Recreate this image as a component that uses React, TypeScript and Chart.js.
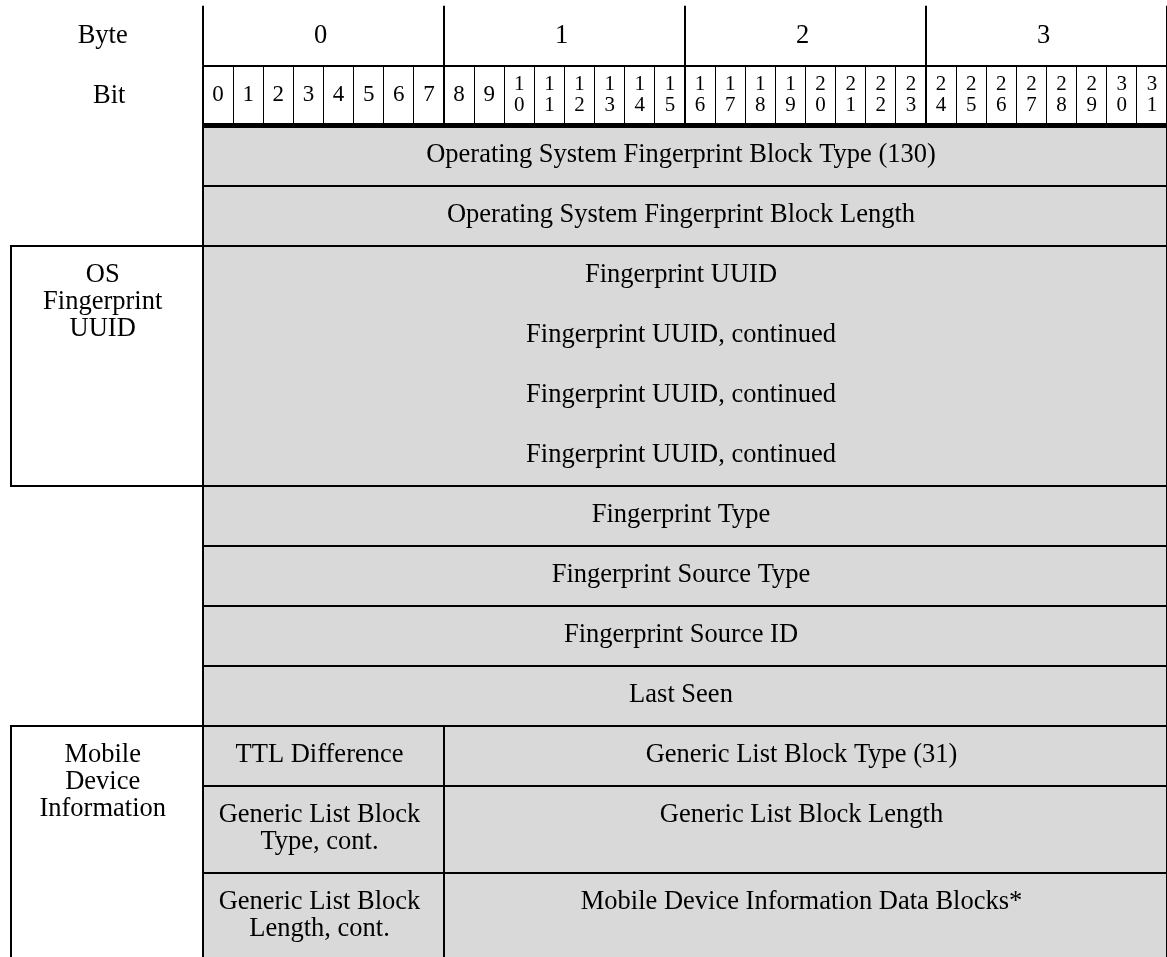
import React, { useEffect, useRef } from 'react';
import { Chart, registerables } from 'chart.js';

Chart.register(...registerables);

// ---- header data ----
const headerLabels = ['Byte', 'Bit'];
const byteLabels = ['0', '1', '2', '3'];
const bitLabels = [
  '0', '1', '2', '3', '4', '5', '6', '7',
  '8', '9', '10', '11', '12', '13', '14', '15',
  '16', '17', '18', '19', '20', '21', '22', '23',
  '24', '25', '26', '27', '28', '29', '30', '31',
];

// ---- field data (bits along x, 32-bit words along y) ----
const fieldLabels = [
  'Operating System Fingerprint Block Type (130)',
  'Operating System Fingerprint Block Length',
  'Fingerprint UUID',
  'Fingerprint UUID, continued',
  'Fingerprint UUID, continued',
  'Fingerprint UUID, continued',
  'Fingerprint Type',
  'Fingerprint Source Type',
  'Fingerprint Source ID',
  'Last Seen',
  'TTL Difference',
  'Generic List Block Type (31)',
  'Generic List Block\nType, cont.',
  'Generic List Block Length',
  'Generic List Block\nLength, cont.',
  'Mobile Device Information Data Blocks*',
];
const fieldBitFrom = [0, 0, 0, 0, 0, 0, 0, 0, 0, 0, 0, 8, 0, 8, 0, 8];
const fieldBitTo = [32, 32, 32, 32, 32, 32, 32, 32, 32, 32, 8, 32, 8, 32, 8, 32];
const fieldRowFrom = [0, 1, 2, 3, 4, 5, 6, 7, 8, 9, 10, 10, 11, 11, 12.45, 12.45];
const fieldRowTo = [1, 2, 3, 4, 5, 6, 7, 8, 9, 10, 11, 11, 12.45, 12.45, 13.9, 13.9];
const fieldBox = [0, 1, 2, 2, 2, 2, 3, 4, 5, 6, 7, 8, 9, 10, 11, 12];

// ---- side group labels ----
const sideLabels = ['OS\nFingerprint\nUUID', 'Mobile\nDevice\nInformation'];
const sideRowFrom = [2, 10];
const sideRowTo = [6, 13.9];

// ---- layout / style constants ----
const X_MIN = -6.7386;
const X_MAX = 32;
const Y_MIN = -2.095;
const Y_MAX = 13.855;
const SIDE_LEFT = -6.36;
const FILL = 'rgb(217,217,217)';
const SERIF = '"Liberation Serif", "Times New Roman", Times, serif';
const TEXT_SHIFT = -4;
const LINE_GAP = 26.7;

const diagramPlugin = {
  id: 'bitDiagram',
  afterDraw(chart: any) {
    const ctx: CanvasRenderingContext2D = chart.ctx;
    const xs = chart.scales.x;
    const ys = chart.scales.y;
    const X = (v: number) => xs.getPixelForValue(v);
    const Y = (v: number) => ys.getPixelForValue(v);
    const r2 = (v: number) => Math.round(v);
    const r1 = (v: number) => Math.floor(v) + 0.5;

    ctx.save();

    // gray field fills (pixel-snapped so adjacent cells join seamlessly)
    ctx.fillStyle = FILL;
    fieldLabels.forEach((_, i) => {
      const x0 = r2(X(fieldBitFrom[i]));
      const x1 = r2(X(fieldBitTo[i]));
      const y0 = r2(Y(fieldRowFrom[i]));
      const y1 = r2(Y(fieldRowTo[i]));
      ctx.fillRect(x0, y0, x1 - x0, y1 - y0);
    });

    ctx.strokeStyle = '#000';
    const line = (x0: number, y0: number, x1: number, y1: number, w: number) => {
      ctx.lineWidth = w;
      ctx.beginPath();
      ctx.moveTo(x0, y0);
      ctx.lineTo(x1, y1);
      ctx.stroke();
    };

    // field boxes
    const boxes: Record<number, { a: number; b: number; c: number; d: number }> = {};
    fieldLabels.forEach((_, i) => {
      const k = fieldBox[i];
      const bx = boxes[k];
      if (!bx) {
        boxes[k] = { a: fieldBitFrom[i], b: fieldBitTo[i], c: fieldRowFrom[i], d: fieldRowTo[i] };
      } else {
        bx.a = Math.min(bx.a, fieldBitFrom[i]);
        bx.b = Math.max(bx.b, fieldBitTo[i]);
        bx.c = Math.min(bx.c, fieldRowFrom[i]);
        bx.d = Math.max(bx.d, fieldRowTo[i]);
      }
    });
    ctx.lineWidth = 2;
    Object.values(boxes).forEach((bx) => {
      const x0 = r2(X(bx.a));
      const x1 = r2(X(bx.b));
      const y0 = r2(Y(bx.c));
      const y1 = r2(Y(bx.d));
      ctx.strokeRect(x0, y0, x1 - x0, y1 - y0);
    });

    // side boxes
    sideLabels.forEach((_, i) => {
      const x0 = r2(X(SIDE_LEFT));
      const x1 = r2(X(0));
      const y0 = r2(Y(sideRowFrom[i]));
      const y1 = r2(Y(sideRowTo[i]));
      ctx.strokeRect(x0, y0, x1 - x0, y1 - y0);
    });

    // header grid: byte row
    byteLabels.forEach((_, b) => {
      const xv = r2(X(b * 8));
      line(xv, Y(-2), xv, Y(-1), 2);
    });
    line(r2(X(32)), Y(-2), r2(X(32)), Y(0), 2);
    line(X(0), r2(Y(-1)), X(32), r2(Y(-1)), 2);
    // bit row
    bitLabels.forEach((_, i) => {
      if (i % 8 === 0) {
        const xv = r2(X(i));
        line(xv, Y(-1), xv, Y(0), 2);
      } else {
        const xv = r1(X(i));
        line(xv, Y(-1), xv, Y(0), 1);
      }
    });
    // thick separator below header
    line(X(0) - 1, Y(0) - 0.3, X(32), Y(0) - 0.3, 5);
    // right edge
    line(r2(X(32)), Y(0), r2(X(32)), Y(Y_MAX), 2);

    // ---- text ----
    ctx.fillStyle = '#000';
    ctx.textAlign = 'center';
    ctx.textBaseline = 'alphabetic';
    ctx.font = `26.5px ${SERIF}`;

    // header labels
    const leftCenter = (X(SIDE_LEFT) + X(0)) / 2;
    ctx.fillText(headerLabels[0], leftCenter - 4.5, Y(-2) + 37.6);
    ctx.fillText(headerLabels[1], leftCenter + 2, Y(-1) + 37.6);

    byteLabels.forEach((lab, b) => {
      const cx = (X(b * 8) + X(b * 8 + 8)) / 2 - 3;
      ctx.fillText(lab, cx, Y(-2) + 37.3);
    });

    bitLabels.forEach((lab, i) => {
      const cx = (X(i) + X(i + 1)) / 2;
      if (lab.length === 1) {
        ctx.font = `23px ${SERIF}`;
        ctx.fillText(lab, cx, Y(-1) + 35.3);
      } else {
        ctx.font = `21px ${SERIF}`;
        ctx.fillText(lab[0], cx, Y(-1) + 24.5);
        ctx.fillText(lab[1], cx, Y(-1) + 45);
      }
    });

    ctx.font = `26.5px ${SERIF}`;
    fieldLabels.forEach((lab, i) => {
      const cx = (X(fieldBitFrom[i]) + X(fieldBitTo[i])) / 2 + TEXT_SHIFT;
      const top = Y(fieldRowFrom[i]);
      lab.split('\n').forEach((ln, k) => {
        ctx.fillText(ln, cx, top + 36.5 + k * LINE_GAP);
      });
    });

    sideLabels.forEach((lab, i) => {
      const cx = leftCenter - 4.5;
      const top = Y(sideRowFrom[i]);
      lab.split('\n').forEach((ln, k) => {
        ctx.fillText(ln, cx, top + 36.6 + k * LINE_GAP);
      });
    });

    ctx.restore();
  },
};

export default function App() {
  const canvasRef = useRef<HTMLCanvasElement | null>(null);

  useEffect(() => {
    const canvas = canvasRef.current;
    if (!canvas) return;
    const chart = new Chart(canvas, {
      type: 'scatter',
      data: { datasets: [] },
      options: {
        responsive: false,
        animation: false,
        events: [],
        devicePixelRatio: 1,
        layout: { padding: 0 },
        plugins: {
          legend: { display: false },
          tooltip: { enabled: false },
        },
        scales: {
          x: { type: 'linear', min: X_MIN, max: X_MAX, display: false },
          y: { type: 'linear', min: Y_MIN, max: Y_MAX, reverse: true, display: false },
        },
      },
      plugins: [diagramPlugin],
    } as any);
    return () => chart.destroy();
  }, []);

  return (
    <div style={{ position: 'absolute', left: 0, top: 0, width: 1167, height: 957, background: '#fff' }}>
      <canvas ref={canvasRef} width={1167} height={957} style={{ display: 'block' }} />
    </div>
  );
}
